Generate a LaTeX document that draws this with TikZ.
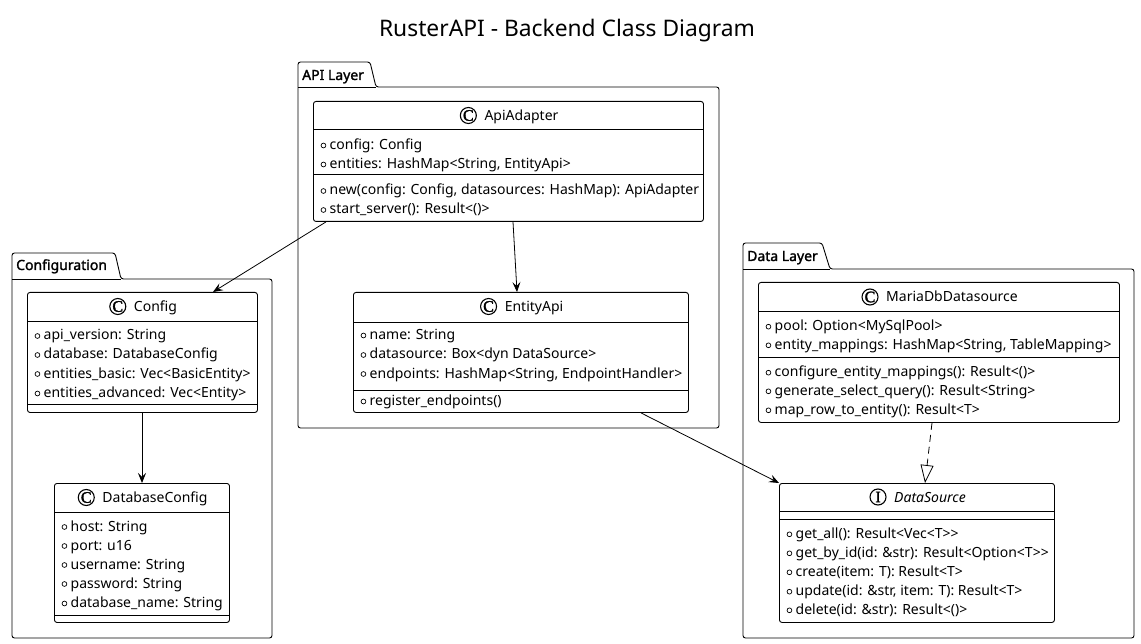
\documentclass[tikz,border=0pt]{standalone}
\usepackage{fontspec}
\setmainfont{Noto Sans}
\newfontfamily\iconfont{Liberation Serif}[FakeBold=2]
\newfontfamily\pkgfont{Noto Sans}[FakeBold=1.6]
\usetikzlibrary{arrows.meta,calc}
\newcommand\vis{\tikz[x=1pt,y=1pt,baseline=0pt]\draw[line width=0.7pt] (2.5,4) circle (2.4);\hspace{3.5pt}}
\tikzset{
 box/.style={draw, line width=0.9pt, rounded corners=2.5pt, inner sep=0, anchor=north west, fill=white},
 sepline/.style={line width=0.9pt},
 mline/.style={anchor=base west, inner sep=0, font=\fontsize{14}{17}\selectfont},
 cname/.style={anchor=base, inner sep=0, font=\fontsize{14}{17}\selectfont},
 icon/.style={circle, draw, line width=1.1pt, minimum size=16pt, inner sep=0, font=\iconfont\fontsize{16}{16}\selectfont},
 pkg/.style={line width=0.9pt, rounded corners=2.5pt},
 plabel/.style={anchor=base west, inner sep=0, font=\pkgfont\fontsize{14}{17}\selectfont},
 assoc/.style={line width=0.8pt, -{Stealth[length=10pt,width=8pt,inset=4pt]}},
 realize/.style={line width=0.8pt, dash pattern=on 7pt off 5pt, -{Triangle[length=18pt,width=13pt,fill=white]}},
}
\begin{document}
\begin{tikzpicture}[x=1pt,y=-1pt]
\useasboundingbox (0,0) rectangle (1141,644);
\fill[white] (0,0) rectangle (1141,644);
% title
\node[inner sep=0, font=\fontsize{22.8}{26}\selectfont] (title) at (567,31) {RusterAPI - Backend Class Diagram};

% packages
\draw[pkg] (298,428) -- (298,62) -- (370,62) -- (376,87) -- (719,87) -- (719,428) -- cycle;
\draw[sepline] (298,87) -- (376,87);
\node[plabel] (papi) at (302,80) {API Layer};

\draw[pkg] (12,638) -- (12,253) -- (115,253) -- (121,279) -- (272,279) -- (272,638) -- cycle;
\draw[sepline] (12,279) -- (121,279);
\node[plabel] (pconf) at (16,270) {Configuration};

\draw[pkg] (743,638) -- (743,243) -- (822,243) -- (830,269) -- (1134,269) -- (1134,638) -- cycle;
\draw[sepline] (743,269) -- (830,269);
\node[plabel] (pdata) at (747,261) {Data Layer};

% ApiAdapter
\node[box, minimum width=390, minimum height=120] (aa) at (313,101) {};
\node[cname] (aa-name) at (521.5,120.5) {ApiAdapter};
\node[icon] (aa-icon) at ($(aa-name.base west)+(-16,-5)$) {C};
\draw[sepline] (313,129) -- (703,129);
\draw[sepline] (313,174.5) -- (703,174.5);
\node[mline] (aa1) at (320.5,149.5) {\vis config: Config};
\node[mline] (aa2) at (320.5,168.5) {\vis entities: HashMap<String, EntityApi>};
\node[mline] (aa3) at (320.5,195) {\vis new(config: Config, datasources: HashMap): ApiAdapter};
\node[mline] (aa4) at (320.5,214) {\vis start\_server(): Result<()>};

% Config
\node[box, minimum width=230, minimum height=120] (config) at (27,292) {};
\node[cname] (config-name) at (155.5,311.5) {Config};
\node[icon] (config-icon) at ($(config-name.base west)+(-16,-5)$) {C};
\draw[sepline] (27,321) -- (257,321);
\draw[sepline] (27,404.3) -- (257,404.3);
\node[mline] (c1) at (34.5,340) {\vis api\_version: String};
\node[mline] (c2) at (34.5,359) {\vis database: DatabaseConfig};
\node[mline] (c3) at (34.5,378) {\vis entities\_basic: Vec<BasicEntity>};
\node[mline] (c4) at (34.5,397.5) {\vis entities\_advanced: Vec<Entity>};

% DatabaseConfig
\node[box, minimum width=175, minimum height=139] (dbc) at (54,483) {};
\node[cname] (dbc-name) at (155,502.5) {DatabaseConfig};
\node[icon] (dbc-icon) at ($(dbc-name.base west)+(-16,-5)$) {C};
\draw[sepline] (54,512) -- (229,512);
\draw[sepline] (54,615) -- (229,615);
\node[mline] (d1) at (61.5,531) {\vis host: String};
\node[mline] (d2) at (61.5,550) {\vis port: u16};
\node[mline] (d3) at (61.5,569) {\vis username: String};
\node[mline] (d4) at (61.5,588) {\vis password: String};
\node[mline] (d5) at (61.5,607.5) {\vis database\_name: String};

% EntityApi
\node[box, minimum width=335, minimum height=120] (ea) at (353,292) {};
\node[cname] (ea-name) at (534,311.5) {EntityApi};
\node[icon] (ea-icon) at ($(ea-name.base west)+(-16,-5)$) {C};
\draw[sepline] (353,322) -- (688,322);
\draw[sepline] (353,390.3) -- (688,390.3);
\node[mline] (e1) at (360.5,339.5) {\vis name: String};
\node[mline] (e2) at (360.5,359) {\vis datasource: Box<dyn DataSource>};
\node[mline] (e3) at (360.5,378) {\vis endpoints: HashMap<String, EndpointHandler>};
\node[mline] (e4) at (360.5,405.5) {\vis register\_endpoints()};

% MariaDbDatasource
\node[box, minimum width=361, minimum height=140] (maria) at (758,282) {};
\node[cname] (maria-name) at (952,302) {MariaDbDatasource};
\node[icon] (maria-icon) at ($(maria-name.base west)+(-16,-5)$) {C};
\draw[sepline] (758,311) -- (1119,311);
\draw[sepline] (758,357.3) -- (1119,357.3);
\node[mline] (m1) at (765.5,330.7) {\vis pool: Option<MySqlPool>};
\node[mline] (m2) at (765.5,349.3) {\vis entity\_mappings: HashMap<String, TableMapping>};
\node[mline] (m3) at (765.5,376.7) {\vis configure\_entity\_mappings(): Result<()>};
\node[mline] (m4) at (765.5,395.3) {\vis generate\_select\_query(): Result<String>};
\node[mline] (m5) at (765.5,414.3) {\vis map\_row\_to\_entity(): Result<T>};

% DataSource
\node[box, minimum width=275, minimum height=139] (ds) at (779,483) {};
\node[cname, font=\itshape\fontsize{14}{17}\selectfont] (ds-name) at (930,502) {DataSource};
\node[icon] (ds-icon) at ($(ds-name.base west)+(-16,-5)$) {I};
\draw[sepline] (779,511) -- (1054,511);
\draw[sepline] (779,519.3) -- (1054,519.3);
\node[mline] (s1) at (786.5,538.3) {\vis get\_all(): Result<Vec<T>{}>};
\node[mline] (s2) at (786.5,557.3) {\vis get\_by\_id(id: \&str): Result<Option<T>{}>};
\node[mline] (s3) at (786.5,576.3) {\vis create(item: T): Result<T>};
\node[mline] (s4) at (786.5,595.7) {\vis update(id: \&str, item: T): Result<T>};
\node[mline] (s5) at (786.5,614.3) {\vis delete(id: \&str): Result<()>};

% connectors
\draw[assoc] ($(aa.south west)+(13,0)$) -- ($(config.north west)+(186,0)$);
\draw[assoc] ($(aa.south west)+(200,0)$) -- ($(ea.north west)+(164,0)$);
\draw[assoc] ($(config.south west)+(115,0)$) -- ($(dbc.north west)+(88,0)$);
\draw[assoc] ($(ea.south west)+(288,0)$) -- (ds.north west);
\draw[realize] ($(maria.south west)+(174,0)$) -- ($(ds.north west)+(146,0)$);
\end{tikzpicture}
\end{document}
